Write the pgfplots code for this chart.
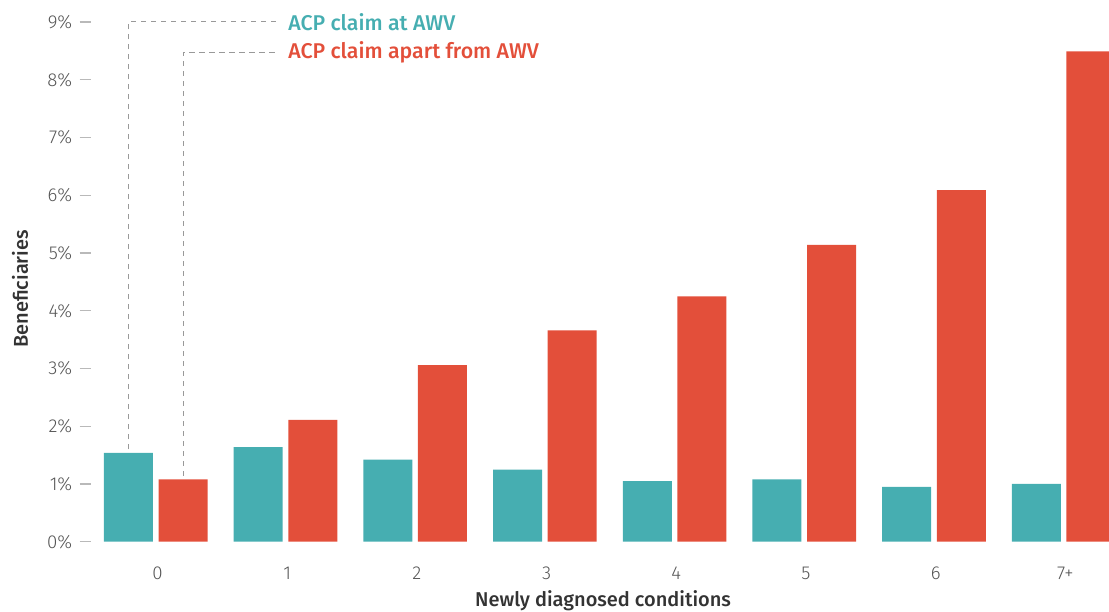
\documentclass[border=0pt]{standalone}
\usepackage{pgfplots}
\pgfplotsset{compat=1.18}
\usepackage{fontspec}
\setmainfont{Fira Sans}
\newfontfamily\lightfont{Fira Sans Light}
\newfontfamily\medfont{Fira Sans Medium}
\definecolor{teal1}{HTML}{46AEB1}
\definecolor{red1}{HTML}{E34F3A}
\definecolor{tickgray}{HTML}{555555}
\definecolor{labgray}{HTML}{333333}
\begin{document}
\begin{tikzpicture}
\begin{axis}[
  name=ax,
  scale only axis,
  width=763.5pt, height=389.8pt,
  xmin=-0.5, xmax=7.349,
  ymin=0, ymax=9,
  clip=false,
  axis lines*=left,
  axis line style={draw=none},
  xtick={0,...,7},
  xticklabels={0,1,2,3,4,5,6,7+},
  ytick={0,...,9},
  yticklabel={\pgfmathprintnumber{\tick}\%},
  /pgf/number format/assume math mode=true,
  ytick pos=left,
  x tick style={draw=none},
  y tick style={draw=gray!55, line width=0.9pt},
  tick align=outside,
  major tick length=8.5pt,
  ticklabel style={font=\lightfont\fontsize{14}{16}\selectfont, text=tickgray},
  yticklabel style={anchor=east, xshift=-2pt},
  xticklabel style={anchor=base, yshift=-20pt, xshift=1.2pt},
  xlabel={Newly diagnosed conditions},
  ylabel={Beneficiaries},
  xlabel style={at={(axis description cs:0.503,-0.125)}, anchor=base, font=\medfont\fontsize{15}{17}\selectfont, text=labgray},
  ylabel style={at={(axis description cs:-0.0619,0.4865)}, anchor=base, rotate=0, font=\medfont\fontsize{15}{17}\selectfont, text=labgray},
]
\addplot[ybar, bar width=0.378, bar shift=-0.211, fill=teal1, draw=none]
  coordinates {(0,1.54) (1,1.64) (2,1.42) (3,1.25) (4,1.05) (5,1.08) (6,0.95) (7,1.00)};
\addplot[ybar, bar width=0.378, bar shift=0.21, fill=red1, draw=none]
  coordinates {(0,1.08) (1,2.11) (2,3.06) (3,3.66) (4,4.25) (5,5.14) (6,6.09) (7,8.49)};
\draw[gray!80, line width=0.75pt, dash pattern=on 4pt off 3.5pt]
  (axis cs:-0.211,1.60) -- (axis cs:-0.211,9) -- (axis cs:0.945,9);
\draw[gray!80, line width=0.75pt, dash pattern=on 4pt off 3.5pt]
  (axis cs:0.21,1.14) -- (axis cs:0.21,8.48) -- (axis cs:0.945,8.48);
\node[anchor=west, inner sep=0pt, text=teal1, font=\medfont\fontsize{16}{18}\selectfont] at (axis cs:1.019,9) {ACP claim at AWV};
\node[anchor=west, inner sep=0pt, text=red1, font=\medfont\fontsize{16}{18}\selectfont] at (axis cs:1.019,8.48) {ACP claim apart from AWV};
\end{axis}
\pgfresetboundingbox
\path ([xshift=-68.25pt, yshift=-52pt]ax.south west) rectangle ([yshift=16.5pt]ax.north east);
\end{tikzpicture}
\end{document}
